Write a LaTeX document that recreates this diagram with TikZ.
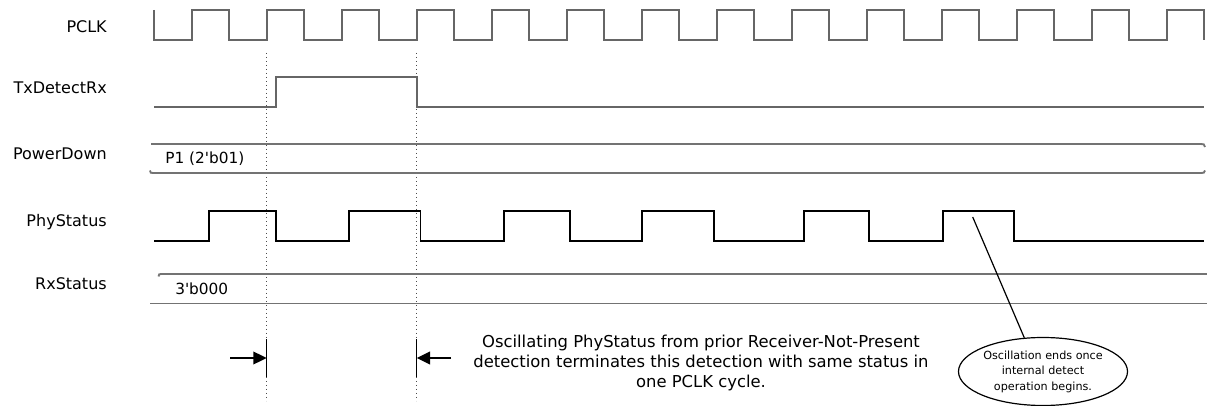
\documentclass[tikz,border=0pt]{standalone}
\usepackage{fontspec}
\setmainfont{DejaVu Sans}
\usetikzlibrary{arrows.meta,shapes.geometric}
\begin{document}
\begin{tikzpicture}[x=0.75pt,y=-0.75pt,
  sig/.style={draw=black!60,line width=1.25pt,line join=miter},
  phy/.style={draw=black,line width=0.95pt},
  bus/.style={draw=black!55,line width=1.4pt},
  guide/.style={draw=black!70,line width=0.6pt,dash pattern=on 0.8pt off 2.2pt},
  lbl/.style={anchor=east,inner sep=0pt,font=\fontsize{12}{14}\selectfont},
  val/.style={anchor=west,inner sep=0pt,font=\fontsize{11.5}{14}\selectfont},
  bar/.style={draw=black,line width=1.1pt},
  pointer/.style={draw=black,line width=1.1pt,-{Triangle[length=10pt,width=9.5pt]}},
  note/.style={ellipse,draw=black,line width=0.9pt,minimum width=120.75pt,minimum height=51pt,inner sep=0pt,align=center,font=\fontsize{8.4}{11.6}\selectfont}]
\useasboundingbox (0,0) rectangle (1207,406);

% labels
\node[lbl] (lclk) at (107,27) {PCLK};
\node[lbl] (ltx)  at (107,88) {TxDetectRx};
\node[lbl] (lpd)  at (107,154) {PowerDown};
\node[lbl] (lphy) at (107,222) {PhyStatus};
\node[lbl] (lrx)  at (107,284) {RxStatus};

% guide lines
\draw[guide] (266.7,53) -- (266.7,401);
\draw[guide] (416.7,53) -- (416.7,401);

% PCLK
\draw[sig] (154,10) -- (154,40) foreach \k in {0,...,13} {
  -- ({191.7+75*\k},40) -- ({191.7+75*\k},10) -- ({229.2+75*\k},10) -- ({229.2+75*\k},40) };

% TxDetectRx
\draw[sig] (154,107) -- (276,107) -- (276,77) -- (416.7,77) -- (416.7,107) -- (1204,107);

% PowerDown bus
\draw[bus] (151,144) -- (1201,144) .. controls (1204,144) .. (1205,147);
\draw[bus] (150,170.5) .. controls (150.5,173) .. (153,173) -- (1201,173) .. controls (1204,173) .. (1205,170.5);
\node[val] (pdv) at (165,159) {P1 (2\textquotesingle b01)};

% PhyStatus
\draw[phy] (154,241) -- (209,241) -- (209,211) -- (276,211) -- (276,241) -- (349,241) -- (349,211)
  -- (420.7,211) -- (420.7,241) -- (504,241) -- (504,211) -- (570,211) -- (570,241) -- (642,241)
  -- (642,211) -- (714,211) -- (714,241) -- (804,241) -- (804,211) -- (869,211) -- (869,241)
  -- (943,241) -- (943,211) -- (1014,211) -- (1014,241) -- (1204,241);
\coordinate (ph) at (972.7,217);

% RxStatus bus
\draw[bus] (158.5,276.5) .. controls (159,274) .. (161.5,274) -- (1207,274);
\draw[bus] (150,303.5) -- (1207,303.5);
\node[val] (rxv) at (175,289) {3\textquotesingle b000};

% timing markers
\coordinate (b1t) at (266.7,339); \coordinate (b1b) at (266.7,377);
\coordinate (b2t) at (416.7,339); \coordinate (b2b) at (416.7,377);
\coordinate (a1s) at (230,358); \coordinate (a1e) at (266.7,358);
\coordinate (a2s) at (451,358); \coordinate (a2e) at (416.7,358);
\draw[bar] (b1t) -- (b1b);
\draw[bar] (b2t) -- (b2b);
\draw[pointer] (a1s) -- (a1e);
\draw[pointer] (a2s) -- (a2e);

% caption
\node[align=center,inner sep=0pt,font=\fontsize{12.3}{15.2}\selectfont] (cap) at (701,363)
  {Oscillating PhyStatus from prior Receiver-Not-Present\\detection terminates this detection with same status in\\one PCLK cycle.};

% note
\node[note] (nt) at (1043,371.5) {Oscillation ends once\\internal detect\\operation begins.};
\draw[line width=0.9pt] (ph) -- (nt.119);
\end{tikzpicture}
\end{document}
